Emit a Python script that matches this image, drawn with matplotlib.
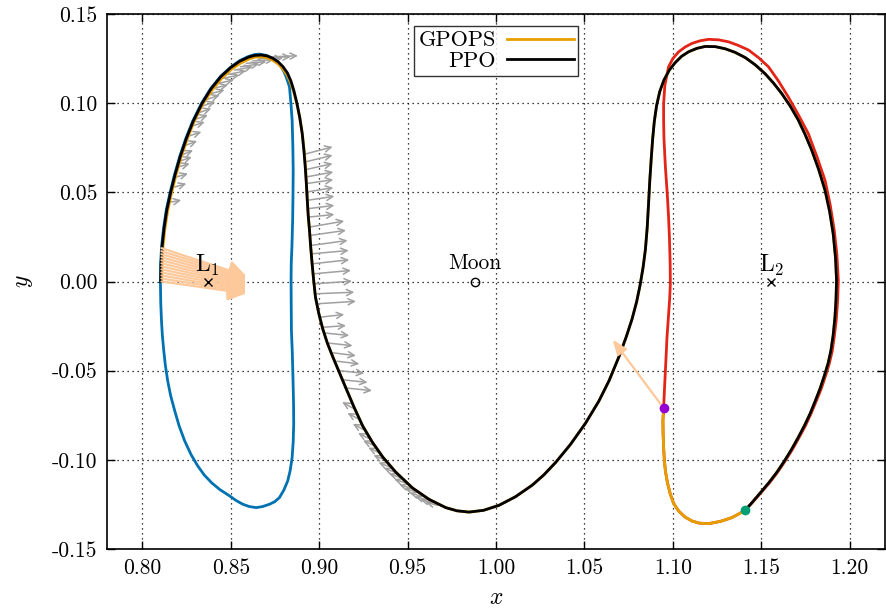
import matplotlib
matplotlib.use("Agg")
import matplotlib.pyplot as plt
import numpy as np

plt.rcParams['font.family'] = ['cmr10', 'DejaVu Serif']
plt.rcParams['mathtext.fontset'] = 'cm'
plt.rcParams['axes.unicode_minus'] = False

# ---------------- data ----------------
# PPO trajectory (black)
ppo_x = [0.8104, 0.8106, 0.8112, 0.8123, 0.8138, 0.8160, 0.8185, 0.8214, 0.8248, 0.8288,
         0.8338, 0.8388, 0.8445, 0.8500, 0.8550, 0.8600, 0.8635, 0.8672, 0.8705, 0.8737,
         0.8768, 0.8795, 0.8820, 0.8840, 0.8857, 0.8874, 0.8890, 0.8904, 0.8914, 0.8922,
         0.8928, 0.8933, 0.8938, 0.8945, 0.8952, 0.8960, 0.8969,
         0.8979, 0.8998, 0.9020, 0.9046, 0.9078, 0.9114, 0.9152, 0.9195, 0.9246, 0.9300,
         0.9360, 0.9434, 0.9528, 0.9622, 0.9716, 0.9780, 0.9848,
         0.9930, 1.0017, 1.0110, 1.0205, 1.0270, 1.0337, 1.0420, 1.0506, 1.0581, 1.0640,
         1.0694, 1.0735, 1.0769, 1.0795, 1.0815, 1.0832, 1.0845, 1.0855, 1.0863, 1.0870,
         1.0878, 1.0886, 1.0895, 1.0908, 1.0926, 1.0950, 1.0980, 1.1014, 1.1050, 1.1089,
         1.1135, 1.1183, 1.1240, 1.1296, 1.1352, 1.1409, 1.1466, 1.1522, 1.1570, 1.1616,
         1.1665, 1.1710, 1.1748, 1.1785, 1.1825, 1.1861, 1.1887, 1.1907, 1.1920, 1.1926,
         1.1923, 1.1917, 1.1907, 1.1894, 1.1878, 1.1857, 1.1833, 1.1806, 1.1777, 1.1744,
         1.1708, 1.1670, 1.1629, 1.1586, 1.1541, 1.1495, 1.1452, 1.1409]
ppo_y = [0.0000, 0.0100, 0.0200, 0.0300, 0.0400, 0.0500, 0.0600, 0.0700, 0.0800, 0.0900,
         0.1000, 0.1080, 0.1150, 0.1200, 0.1235, 0.1258, 0.1268, 0.1270, 0.1265, 0.1252,
         0.1232, 0.1205, 0.1170, 0.1125, 0.1070, 0.1000, 0.0920, 0.0830, 0.0730, 0.0630,
         0.0540, 0.0450, 0.0370, 0.0290, 0.0195, 0.0100, 0.0005,
         -0.0088, -0.0180, -0.0265, -0.0345, -0.0425, -0.0510, -0.0600, -0.0700, -0.0810, -0.0900,
         -0.0985, -0.1070, -0.1158, -0.1222, -0.1268, -0.1286, -0.1293,
         -0.1283, -0.1255, -0.1207, -0.1142, -0.1085, -0.1015, -0.0915, -0.0795, -0.0672, -0.0555,
         -0.0425, -0.0315, -0.0212, -0.0115, -0.0020, 0.0080, 0.0180, 0.0300, 0.0440, 0.0570,
         0.0690, 0.0800, 0.0895, 0.0985, 0.1065, 0.1130, 0.1185, 0.1228, 0.1263, 0.1288,
         0.1307, 0.1318, 0.1317, 0.1305, 0.1285, 0.1256, 0.1215, 0.1165, 0.1112, 0.1054,
         0.0982, 0.0905, 0.0825, 0.0738, 0.0628, 0.0511, 0.0392, 0.0268, 0.0135, 0.0006,
         -0.0100, -0.0200, -0.0300, -0.0388, -0.0460, -0.0528, -0.0600, -0.0669, -0.0740, -0.0809,
         -0.0877, -0.0944, -0.1010, -0.1073, -0.1131, -0.1185, -0.1235, -0.1283]

# GPOPS trajectory (orange): own first arc, then shared with PPO, then its own final arc
gpops_arc_x = [0.8109, 0.8111, 0.8117, 0.8128, 0.8144, 0.8166, 0.8191, 0.8220, 0.8254, 0.8294,
               0.8342, 0.8392, 0.8449, 0.8504, 0.8556, 0.8604, 0.8638, 0.8672, 0.8704, 0.8735,
               0.8765, 0.8792, 0.8817, 0.8838, 0.8856, 0.8874, 0.8891, 0.8905, 0.8916, 0.8924]
gpops_arc_y = [0.0000, 0.0100, 0.0200, 0.0300, 0.0400, 0.0500, 0.0600, 0.0700, 0.0800, 0.0900,
               0.0995, 0.1070, 0.1140, 0.1190, 0.1225, 0.1248, 0.1258, 0.1260, 0.1255, 0.1242,
               0.1222, 0.1195, 0.1160, 0.1115, 0.1062, 0.0995, 0.0915, 0.0825, 0.0725, 0.0630]
gpops_end_x = [1.1370, 1.1334, 1.1270, 1.1202, 1.1150, 1.1108, 1.1068, 1.1033, 1.1005, 1.0986,
               1.0970, 1.0958, 1.0952, 1.0948, 1.0945, 1.0944, 1.0948]
gpops_end_y = [-0.1305, -0.1324, -0.1345, -0.1358, -0.1355, -0.1343, -0.1320, -0.1287, -0.1245, -0.1193,
               -0.1130, -0.1062, -0.1000, -0.0931, -0.0850, -0.0781, -0.0710]
gpops_x = gpops_arc_x + ppo_x[30:] + gpops_end_x
gpops_y = gpops_arc_y + ppo_y[30:] + gpops_end_y

# L1 periodic orbit (blue)
l1_x = [0.8102, 0.8103, 0.8109, 0.8120, 0.8135, 0.8157, 0.8182, 0.8211, 0.8245, 0.8285,
        0.8335, 0.8385, 0.8442, 0.8497, 0.8550, 0.8600, 0.8635, 0.8665,
        0.8700, 0.8730, 0.8760, 0.8785, 0.8800, 0.8813, 0.8832, 0.8840, 0.8847, 0.8851,
        0.8853, 0.8852, 0.8850, 0.8846, 0.8842, 0.8841, 0.8842, 0.8843, 0.8848, 0.8852,
        0.8855, 0.8856, 0.8853, 0.8847, 0.8836, 0.8822, 0.8800, 0.8775, 0.8748, 0.8719,
        0.8680, 0.8644, 0.8605, 0.8568, 0.8530, 0.8493, 0.8440, 0.8392, 0.8350, 0.8313,
        0.8275, 0.8239, 0.8208, 0.8183, 0.8160, 0.8143, 0.8130, 0.8121, 0.8113, 0.8108,
        0.8104, 0.8102]
l1_y = [0.0000, 0.0100, 0.0200, 0.0300, 0.0400, 0.0500, 0.0600, 0.0700, 0.0800, 0.0900,
        0.1000, 0.1080, 0.1150, 0.1200, 0.1238, 0.1262, 0.1273, 0.1275,
        0.1268, 0.1255, 0.1232, 0.1204, 0.1178, 0.1148, 0.1092, 0.1000, 0.0904, 0.0760,
        0.0624, 0.0500, 0.0350, 0.0200, 0.0100, 0.0000, -0.0150, -0.0275, -0.0400, -0.0550,
        -0.0680, -0.0799, -0.0900, -0.0987, -0.1060, -0.1118, -0.1170, -0.1212, -0.1235, -0.1249,
        -0.1262, -0.1268, -0.1262, -0.1249, -0.1228, -0.1202, -0.1168, -0.1129, -0.1085, -0.1034,
        -0.0970, -0.0893, -0.0810, -0.0725, -0.0640, -0.0556, -0.0470, -0.0388, -0.0300, -0.0219,
        -0.0120, 0.0000]

# L2 periodic orbit (red)
l2_x = [1.0948, 1.0953, 1.0958, 1.0963, 1.0967, 1.0975, 1.0982, 1.0986, 1.0985, 1.0981,
        1.0976, 1.0968, 1.0958, 1.0950, 1.0948, 1.0948, 1.0955, 1.0976, 1.1000, 1.1033,
        1.1070, 1.1108, 1.1155, 1.1202, 1.1260, 1.1315, 1.1370, 1.1428, 1.1485, 1.1541,
        1.1597, 1.1653, 1.1710, 1.1766, 1.1815, 1.1861, 1.1890, 1.1913, 1.1928, 1.1936,
        1.1932, 1.1924, 1.1913, 1.1902, 1.1885, 1.1864, 1.1840, 1.1812, 1.1782, 1.1750,
        1.1713, 1.1675, 1.1633, 1.1590, 1.1545, 1.1498, 1.1453, 1.1409, 1.1370, 1.1334,
        1.1270, 1.1202, 1.1150, 1.1108, 1.1068, 1.1033, 1.1005, 1.0986, 1.0970, 1.0958,
        1.0952, 1.0948, 1.0945, 1.0944, 1.0948]
l2_y = [-0.0710, -0.0600, -0.0500, -0.0400, -0.0313, -0.0200, -0.0100, -0.0013, 0.0100, 0.0240,
        0.0361, 0.0500, 0.0642, 0.0800, 0.0900, 0.0998, 0.1100, 0.1204, 0.1250, 0.1288,
        0.1315, 0.1335, 0.1350, 0.1358, 0.1355, 0.1344, 0.1324, 0.1298, 0.1255, 0.1204,
        0.1125, 0.1035, 0.0935, 0.0830, 0.0700, 0.0567, 0.0430, 0.0287, 0.0150, 0.0006,
        -0.0110, -0.0219, -0.0310, -0.0388, -0.0460, -0.0528, -0.0600, -0.0669, -0.0740, -0.0809,
        -0.0877, -0.0944, -0.1010, -0.1073, -0.1131, -0.1185, -0.1236, -0.1283, -0.1305, -0.1324,
        -0.1345, -0.1358, -0.1355, -0.1343, -0.1320, -0.1287, -0.1245, -0.1193, -0.1130, -0.1062,
        -0.1000, -0.0931, -0.0850, -0.0781, -0.0710]

# grey control arrows along the trajectory: tails and heads
grey_tail_x = [0.8164, 0.8183, 0.8192, 0.8202, 0.8212, 0.8221, 0.8235, 0.8249, 0.8268, 0.8286,
               0.8305, 0.8328, 0.8352, 0.8375, 0.8399, 0.8427, 0.8455, 0.8488, 0.8521, 0.8555,
               0.8588, 0.8625, 0.8663, 0.8700, 0.8738,
               0.8914, 0.8919, 0.8922, 0.8925, 0.8927, 0.8930, 0.8932, 0.8935, 0.8938, 0.8944,
               0.8947, 0.8952, 0.8956, 0.8960, 0.8966, 0.8972, 0.8977, 0.8988, 0.9005, 0.9018,
               0.9025, 0.9050, 0.9080, 0.9100, 0.9114, 0.9132, 0.9150,
               0.9190, 0.9220, 0.9250, 0.9280, 0.9310, 0.9340, 0.9370, 0.9400, 0.9430, 0.9460,
               0.9490, 0.9520, 0.9550, 0.9580, 0.9610, 0.9640, 0.9670]
grey_tail_y = [0.0446, 0.0530, 0.0586, 0.0642, 0.0675, 0.0708, 0.0760, 0.0811, 0.0867, 0.0905,
               0.0942, 0.0980, 0.1017, 0.1050, 0.1083, 0.1111, 0.1139, 0.1162, 0.1185, 0.1204,
               0.1223, 0.1237, 0.1251, 0.1256, 0.1260,
               0.0713, 0.0670, 0.0627, 0.0586, 0.0549, 0.0502, 0.0455, 0.0408, 0.0361, 0.0305,
               0.0258, 0.0202, 0.0155, 0.0099, 0.0043, -0.0013, -0.0069, -0.0125, -0.0200, -0.0257,
               -0.0288, -0.0345, -0.0400, -0.0447, -0.0500, -0.0551, -0.0597,
               -0.0710, -0.0770, -0.0830, -0.0880, -0.0920, -0.0960, -0.1000, -0.1040, -0.1070, -0.1100,
               -0.1130, -0.1160, -0.1180, -0.1205, -0.1225, -0.1240, -0.1255]
grey_head_x = [0.8220, 0.8249, 0.8258, 0.8268, 0.8280, 0.8287, 0.8310, 0.8334, 0.8353, 0.8371,
               0.8390, 0.8413, 0.8437, 0.8465, 0.8484, 0.8517, 0.8549, 0.8586, 0.8624, 0.8662,
               0.8701, 0.8745, 0.8795, 0.8840, 0.8880,
               0.9076, 0.9076, 0.9076, 0.9080, 0.9080, 0.9080, 0.9086, 0.9086, 0.9086, 0.9142,
               0.9152, 0.9161, 0.9167, 0.9170, 0.9180, 0.9186, 0.9199, 0.9208, 0.9142, 0.9152,
               0.9170, 0.9189, 0.9208, 0.9227, 0.9255, 0.9274, 0.9299,
               0.9130, 0.9160, 0.9190, 0.9220, 0.9248, 0.9278, 0.9307, 0.9336, 0.9365, 0.9395,
               0.9424, 0.9453, 0.9483, 0.9512, 0.9542, 0.9572, 0.9602]
grey_head_y = [0.0456, 0.0549, 0.0605, 0.0661, 0.0698, 0.0736, 0.0788, 0.0839, 0.0895, 0.0933,
               0.0970, 0.1008, 0.1045, 0.1074, 0.1102, 0.1130, 0.1158, 0.1181, 0.1204, 0.1220,
               0.1232, 0.1244, 0.1251, 0.1260, 0.1266,
               0.0755, 0.0708, 0.0661, 0.0614, 0.0571, 0.0526, 0.0478, 0.0427, 0.0376, 0.0339,
               0.0287, 0.0230, 0.0174, 0.0122, 0.0062, 0.0002, -0.0060, -0.0111, -0.0185, -0.0247,
               -0.0303, -0.0360, -0.0416, -0.0462, -0.0515, -0.0566, -0.0612,
               -0.0676, -0.0737, -0.0798, -0.0850, -0.0891, -0.0932, -0.0974, -0.1015, -0.1046, -0.1077,
               -0.1108, -0.1139, -0.1160, -0.1185, -0.1206, -0.1222, -0.1237]

# peach arrows (initial thrust near L1)
peach_tail_x = [0.8108, 0.8108, 0.8108, 0.8108, 0.8108, 0.8108, 0.8108, 0.8108, 0.8108, 0.8108, 0.8108, 0.8108]
peach_tail_y = [0.0000, 0.0017, 0.0034, 0.0051, 0.0068, 0.0085, 0.0102, 0.0119, 0.0136, 0.0153, 0.0170, 0.0187]
peach_head_x = [0.8587, 0.8587, 0.8587, 0.8587, 0.8587, 0.8587, 0.8587, 0.8587, 0.8587, 0.8587, 0.8587, 0.8587]
peach_head_y = [-0.0067, -0.0059, -0.0050, -0.0041, -0.0032, -0.0023, -0.0014, -0.0005, 0.0004, 0.0013, 0.0022, 0.0031]

# peach arrow at the GPOPS end point
end_arrow_tail = (1.0948, -0.0710)
end_arrow_head = (1.0660, -0.0326)

purple_pt = (1.0948, -0.0710)
green_pt = (1.1409, -0.1283)

moon = (0.98785, 0.0)
L1 = (0.83692, 0.0)
L2 = (1.15568, 0.0)

x_ticks = [0.80, 0.85, 0.90, 0.95, 1.00, 1.05, 1.10, 1.15, 1.20]
x_labels = ['0.80', '0.85', '0.90', '0.95', '1.00', '1.05', '1.10', '1.15', '1.20']
y_ticks = [-0.15, -0.10, -0.05, 0.00, 0.05, 0.10, 0.15]
y_labels = ['-0.15', '-0.10', '-0.05', '0.00', '0.05', '0.10', '0.15']

# ---------------- plot ----------------
fig = plt.figure(figsize=(8.86, 6.10), dpi=100)
ax = fig.add_axes([107 / 886, 61 / 610, 778 / 886, 535 / 610])

ax.plot(l1_x, l1_y, color='#0072B2', lw=2.0, zorder=2, solid_joinstyle='round')
ax.plot(l2_x, l2_y, color='#E32416', lw=2.0, zorder=2, solid_joinstyle='round')

for tx, ty, hx, hy in zip(grey_tail_x, grey_tail_y, grey_head_x, grey_head_y):
    ax.annotate('', xy=(hx, hy), xytext=(tx, ty),
                arrowprops=dict(arrowstyle='->,head_length=0.45,head_width=0.22',
                                color='#a0a0a0', lw=1.1, shrinkA=0, shrinkB=0),
                zorder=3)

ax.plot(gpops_x, gpops_y, color='#E69F00', lw=2.0, zorder=4, label='GPOPS',
        solid_joinstyle='round')
ax.plot(ppo_x, ppo_y, color='black', lw=2.0, zorder=5, label='PPO',
        solid_joinstyle='round')

for tx, ty, hx, hy in zip(peach_tail_x, peach_tail_y, peach_head_x, peach_head_y):
    ax.annotate('', xy=(hx, hy), xytext=(tx, ty),
                arrowprops=dict(arrowstyle='-|>,head_length=1.1,head_width=0.6',
                                color='#FDC89A', lw=1.6, shrinkA=0, shrinkB=0),
                zorder=6)

ax.annotate('', xy=end_arrow_head, xytext=end_arrow_tail,
            arrowprops=dict(arrowstyle='-|>,head_length=0.9,head_width=0.35',
                            color='#FDC89A', lw=1.6, shrinkA=0, shrinkB=0),
            zorder=6)

ax.plot(*purple_pt, 'o', color='#9400D3', ms=6, zorder=7)
ax.plot(*green_pt, 'o', color='#009E73', ms=6, zorder=7)

ax.plot(*moon, 'o', mfc='none', mec='black', ms=6, mew=1.0, zorder=7)
ax.text(moon[0], moon[1] + 0.005, 'Moon', ha='center', va='bottom', fontsize=15.5)
ax.plot(*L1, 'x', color='black', ms=6, mew=1.0, zorder=7)
ax.text(L1[0], L1[1] + 0.002, r'L$_1$', ha='center', va='bottom', fontsize=17, zorder=7)
ax.plot(*L2, 'x', color='black', ms=6, mew=1.0, zorder=7)
ax.text(L2[0], L2[1] + 0.002, r'L$_2$', ha='center', va='bottom', fontsize=17, zorder=7)

ax.set_xlim(0.78, 1.22)
ax.set_ylim(-0.15, 0.15)
ax.set_xticks(x_ticks)
ax.set_xticklabels(x_labels)
ax.set_yticks(y_ticks)
ax.set_yticklabels(y_labels)
ax.tick_params(direction='in', length=6, width=1, top=True, right=True,
               labelsize=15.5, pad=7)
ax.grid(True, color='black', linestyle=(0, (1, 3)), linewidth=0.9)
for s in ax.spines.values():
    s.set_linewidth(1.2)

ax.set_xlabel(r'$x$', fontsize=17, labelpad=6)
ax.set_ylabel(r'$y$', fontsize=17, labelpad=12)

leg = ax.legend(loc='upper center', bbox_to_anchor=(0.5, 0.985), markerfirst=False,
                fontsize=16, frameon=True, fancybox=False, edgecolor='black',
                handlelength=3.0, borderpad=0.2, labelspacing=0.05, handletextpad=0.5,
                borderaxespad=0.2)
leg.get_frame().set_linewidth(1.0)
for t in leg.get_texts():
    t.set_ha('right')

fig.savefig('out.png', dpi=100)
